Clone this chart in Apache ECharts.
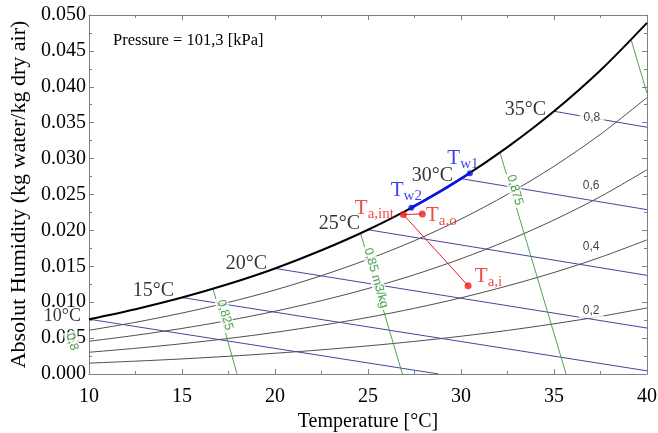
<!DOCTYPE html>
<html><head><meta charset="utf-8">
<script src="https://cdn.jsdelivr.net/npm/echarts@6/dist/echarts.min.js"></script>
<style>html,body{margin:0;padding:0;background:#fff}#c{width:658px;height:433px}</style>
</head><body><div id="c"></div>
<script>
// ---- data ----
const tempGrid = [10, 12.5, 15, 17.5, 20, 22.5, 25, 27.5, 30, 32.5, 35, 37.5, 40];
const satW  = [0.00763, 0.00903, 0.01065, 0.01253, 0.01470, 0.01723, 0.02009, 0.02339, 0.02721, 0.03160, 0.03659, 0.04230, 0.04890];
const rh80W = [0.00609, 0.00720, 0.00849, 0.00998, 0.01170, 0.01370, 0.01597, 0.01857, 0.02158, 0.02502, 0.02893, 0.03339, 0.03851];
const rh60W = [0.00456, 0.00539, 0.00635, 0.00746, 0.00874, 0.01022, 0.01190, 0.01383, 0.01605, 0.01858, 0.02145, 0.02471, 0.02845];
const rh40W = [0.00303, 0.00358, 0.00422, 0.00495, 0.00580, 0.00678, 0.00788, 0.00915, 0.01061, 0.01227, 0.01414, 0.01626, 0.01868];
const rh20W = [0.00151, 0.00179, 0.00210, 0.00247, 0.00289, 0.00337, 0.00392, 0.00454, 0.00526, 0.00607, 0.00699, 0.00802, 0.00920];
const rhLabels = ['0,8', '0,6', '0,4', '0,2'];
const rhLabelT = [37.04, 37.0, 37.0, 37.0];
const rhLabelW = [0.03565, 0.02618, 0.01769, 0.00877];

const wbTemps  = [10, 15, 20, 25, 30, 35];
const wbStartW = [0.00763, 0.01065, 0.01470, 0.02009, 0.02721, 0.03659];
const wbEndT   = [28.8, 40, 40, 40, 40, 40];
const wbEndW   = [0, 0.00044, 0.0064, 0.01374, 0.02289, 0.03437];

const volTopT = [16.67, 24.6, 32.1, 39.15];
const volTopW = [0.01184, 0.0196, 0.0308, 0.0465];
const volBotT = [17.96, 26.85, 35.65, 40];
const volBotW = [0, 0, 0, 0.0391];
const volLabels = ['0,8', '0,825', '0,85 m3/kg', '0,875'];
const volLabelT = [9.09, 17.31, 25.43, 32.90];
const volLabelW = [0.00446, 0.00822, 0.01337, 0.02563];

const pathT = [27.33, 28, 29, 30, 30.48];
const pathW = [0.02316, 0.02411, 0.0256, 0.02721, 0.02797];

const ptNames = ['w1', 'w2', 'a,int', 'a,o', 'a,i'];
const ptT = [30.48, 27.33, 26.90, 27.92, 30.38];
const ptW = [0.02797, 0.02316, 0.0222, 0.0223, 0.0123];

const xTicks = [10, 15, 20, 25, 30, 35, 40];

// ---- styling ----
const SERIF = '"Liberation Serif", "Times New Roman", serif';
const SANS = '"Liberation Sans", Arial, sans-serif';
const FRAME = '#808080';
const WB = '#4646a0', RH = '#3a3a3a', VOL = '#3c9a3c', VOLTXT = '#1f8a1f';
const BLUE = '#0a14e6', RED = '#ee1c1c';

const zip = (a, b) => a.map((v, i) => [v, b[i]]);
const series = [];
[rh80W, rh60W, rh40W, rh20W].forEach(arr => series.push({
  type: 'line', data: zip(tempGrid, arr), smooth: 0.3, symbol: 'none',
  lineStyle: { color: RH, width: 0.9 }, z: 2, silent: true
}));
wbTemps.forEach((t, i) => series.push({
  type: 'line', data: [[t, wbStartW[i]], [wbEndT[i], wbEndW[i]]], symbol: 'none',
  lineStyle: { color: WB, width: 1 }, z: 2, silent: true
}));
volTopT.forEach((t, i) => series.push({
  type: 'line', data: [[t, volTopW[i]], [volBotT[i], volBotW[i]]], symbol: 'none',
  lineStyle: { color: VOL, width: 0.9 }, z: 2, silent: true
}));
series.push({
  type: 'line', data: zip(tempGrid, satW), smooth: 0.3, symbol: 'none',
  lineStyle: { color: '#000', width: 2 }, z: 3, silent: true
});
series.push({
  type: 'line', data: zip(pathT, pathW), smooth: 0.3, symbol: 'none',
  lineStyle: { color: BLUE, width: 2.6 }, z: 4, silent: true
});
// red process lines
series.push({ type: 'line', data: [[ptT[2], ptW[2]], [ptT[3], ptW[3]]], symbol: 'none',
  lineStyle: { color: RED, width: 1 }, z: 4, silent: true });
series.push({ type: 'line', data: [[ptT[2], ptW[2]], [ptT[4], ptW[4]]], symbol: 'none',
  lineStyle: { color: RED, width: 1 }, z: 4, silent: true });

// temperature labels at wet-bulb starting points
const tDy = [-3, -7, -5, -6, -3, -2];
series.push({
  type: 'scatter', symbolSize: 0, clip: false, z: 6, silent: true,
  data: wbTemps.map((t, i) => ({
    value: [t, wbStartW[i]],
    label: { show: true, position: 'left', distance: 8, offset: [0, tDy[i]],
      formatter: t + '°C', fontFamily: SERIF, fontSize: i === 0 ? 18 : 20, color: '#000' }
  }))
});
// RH labels
series.push({
  type: 'scatter', symbolSize: 0, clip: false, z: 6, silent: true,
  data: rhLabels.map((s, i) => ({
    value: [rhLabelT[i], rhLabelW[i]],
    label: { show: true, position: 'inside', formatter: s, fontFamily: SANS, fontSize: 12,
      color: '#111', backgroundColor: '#fff', padding: [1, 4] }
  }))
});
// volume labels
series.push({
  type: 'scatter', symbolSize: 0, clip: false, z: 6, silent: true,
  data: volLabels.map((s, i) => ({
    value: [volLabelT[i], volLabelW[i]],
    label: { show: true, position: 'inside', formatter: s, rotate: -74, fontFamily: SANS,
      fontSize: 12.5, color: VOLTXT, backgroundColor: '#fff', padding: [0, 2] }
  }))
});
// state points
const ptOff = [[-7, -14.5], [-5, -17], [-29, -6], [19, 2], [20.5, -9]];
series.push({
  type: 'scatter', clip: false, z: 7, silent: true,
  data: ptNames.map((n, i) => {
    const col = i < 2 ? BLUE : RED;
    return {
      value: [ptT[i], ptW[i]],
      symbolSize: i < 2 ? 6 : 7,
      itemStyle: { color: col },
      label: { show: true, position: 'inside', offset: ptOff[i], formatter: '{m|T}{s|' + n + '}',
        rich: {
          m: { fontFamily: SERIF, fontSize: 21, lineHeight: 26, color: col },
          s: { fontFamily: SERIF, fontSize: 15, lineHeight: 16, verticalAlign: 'bottom', color: col }
        } }
    };
  })
});

const axisCommon = {
  axisLine: { show: true, onZero: false, lineStyle: { color: FRAME, width: 1 } },
  axisTick: { show: true, inside: true, length: 5, lineStyle: { color: FRAME } },
  minorTick: { show: true, splitNumber: 2, length: 3, lineStyle: { color: FRAME } },
  splitLine: { show: false }, minorSplitLine: { show: false }
};
const option = {
  animation: false,
  backgroundColor: '#fff',
  grid: { left: 89, right: 11, top: 15, bottom: 59, containLabel: false, outerBoundsMode: 'none' },
  xAxis: [
    Object.assign({ type: 'value', min: 10, max: 40, interval: 5, position: 'bottom',
      name: 'Temperature [°C]', nameLocation: 'middle', nameGap: 28,
      nameTextStyle: { fontFamily: SERIF, fontSize: 20, color: '#000' },
      axisLabel: { fontFamily: SERIF, fontSize: 20, color: '#000', margin: 13,
        formatter: v => xTicks.includes(v) ? String(v) : '' } }, axisCommon),
    Object.assign({ type: 'value', min: 10, max: 40, interval: 5, position: 'top',
      axisLabel: { show: false } }, axisCommon)
  ],
  yAxis: [
    Object.assign({ type: 'value', min: 0, max: 0.05, interval: 0.005, position: 'left',
      name: 'Absolut Humidity (kg water/kg dry air)', nameLocation: 'middle', nameGap: 58,
      nameTextStyle: { fontFamily: SERIF, fontSize: 22, color: '#000' },
      axisLabel: { fontFamily: SERIF, fontSize: 20, color: '#000', margin: 3,
        formatter: v => v.toFixed(3) } }, axisCommon),
    Object.assign({ type: 'value', min: 0, max: 0.05, interval: 0.005, position: 'right',
      axisLabel: { show: false } }, axisCommon)
  ],
  graphic: [{ type: 'text', left: 113, top: 32, z: 10,
    style: { text: 'Pressure = 101,3 [kPa]', font: '16.5px ' + SERIF, fill: '#000' } }],
  series: series
};
const chart = echarts.init(document.getElementById('c'), null, { renderer: 'canvas' });
chart.setOption(option);
</script></body></html>
